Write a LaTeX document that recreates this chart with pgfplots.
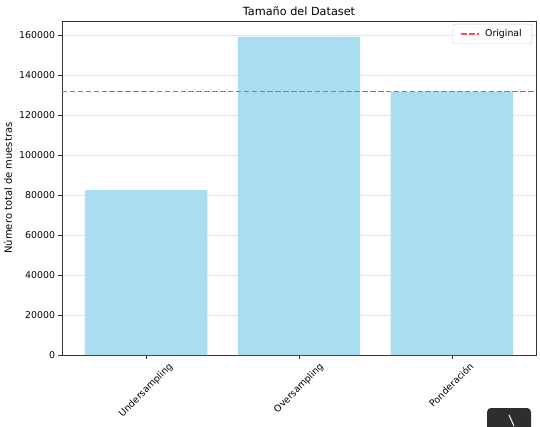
\documentclass[border=0pt]{standalone}
\usepackage{pgfplots}
\pgfplotsset{compat=1.18}
\usepackage{fontspec}
\setmainfont{DejaVu Sans}
\definecolor{barblue}{RGB}{171,221,241}
\definecolor{origred}{HTML}{FF4D4D}
\newlength\lw \newlength\lxo \newlength\lyo
% place text so that its 45-degree rotated box is centred under the tick, its top 3.5bp below
\newcommand{\rotlab}[1]{%
  \settowidth{\lw}{#1}%
  \pgfmathsetlength{\lxo}{((-4.95bp-\lw-7.1bp)+(7.1bp-2.2bp-\lw)/2)/2}%
  \pgfmathsetlength{\lyo}{((-4.95bp-\lw-7.1bp)-(7.1bp-2.2bp-\lw)/2)/2}%
  \makebox[0pt][l]{\hspace*{\lxo}\raisebox{\lyo}[0pt][0pt]{#1}}}
\begin{document}
\begin{tikzpicture}[x=1bp,y=1bp]
\path[use as bounding box] (-62,-71) rectangle (478,355);
\begin{axis}[
  at={(0,0)}, anchor=south west,
  scale only axis, width=474bp, height=334bp,
  clip=false,
  xmin=-0.55, xmax=2.55, ymin=0, ymax=167000,
  xtick={0,1,2},
  xticklabels={\rotlab{Undersampling},\rotlab{Oversampling},\rotlab{Ponderación}},
  ytick={0,20000,40000,60000,80000,100000,120000,140000,160000},
  scaled y ticks=false,
  /pgf/number format/assume math mode=true,
  yticklabel style={/pgf/number format/fixed,/pgf/number format/1000 sep={}},
  tick label style={font=\fontsize{9.4}{11}\selectfont},
  xticklabel style={rotate=45, anchor=center, inner sep=0pt},
  tick align=outside, tick pos=left, major tick length=3.5bp,
  tick style={black!80, line width=0.8bp},
  ymajorgrids, grid style={color=black!10, line width=0.6bp},
  axis line style={black!80, line width=0.8bp},
  title={Tamaño del Dataset},
  title style={font=\fontsize{11.3}{13}\selectfont, at={(0.5,1)}, anchor=base, inner sep=0pt, yshift=0bp},
  ylabel={Número total de muestras},
  ylabel style={font=\fontsize{9.4}{11}\selectfont},
  every axis y label/.style={at={(axis description cs:-0.1139,0.5)}, rotate=90, anchor=center},
  legend style={at={(1,1)}, anchor=north east, xshift=-4bp, yshift=-3bp, draw=black!20, rounded corners=2bp, font=\fontsize{9.4}{11}\selectfont, inner xsep=8bp, inner ysep=3.5bp,
    /tikz/every odd column/.append style={column sep=3bp}},
  legend image code/.code={\draw[#1, sharp corners] plot coordinates {(0bp,0bp) (9bp,0bp) (18bp,0bp)};},
  legend cell align=left,
]
\addplot[ybar, bar width=0.8, fill=barblue, draw=none, forget plot] coordinates {(0,82500) (1,159000) (2,131500)};
\addplot[color=origred, draw=origred, line width=1.4bp, dash pattern=on 5.5bp off 2.4bp, mark=none, sharp corners] coordinates {(-0.55,131700) (1,131700) (2.55,131700)};
\addlegendentry{Original}
\draw[origred, line width=1.4bp, dash pattern=on 5.5bp off 2.4bp] (axis cs:-0.55,131700) -- (axis cs:2.55,131700);
\end{axis}
\fill[black!82, rounded corners=4bp] (425,-53) rectangle (469,-80);
\draw[white, line width=1bp] (447,-60) -- (452,-71);
\end{tikzpicture}
\end{document}
